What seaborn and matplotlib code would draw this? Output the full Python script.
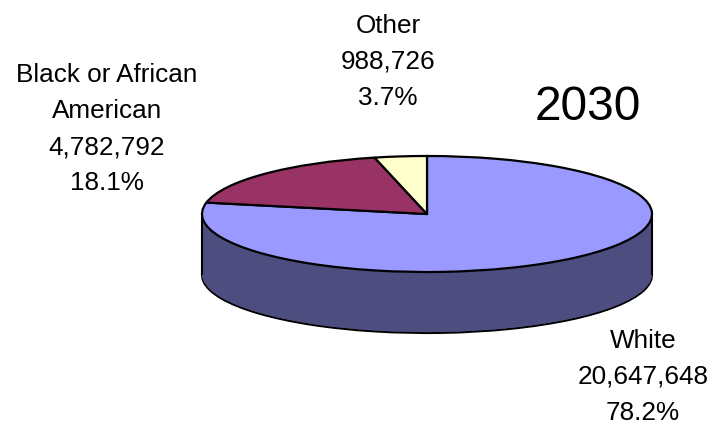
import matplotlib
matplotlib.use("Agg")
import matplotlib.pyplot as plt
import seaborn as sns

sns.set_theme(style="white")
plt.rcParams['font.family'] = ['Liberation Sans', 'DejaVu Sans']

categories = ["White", "Black or African American", "Other"]
populations = [20647648, 4782792, 988726]
display_labels = ["White\n20,647,648\n78.2%", "Black or African\nAmerican\n4,782,792\n18.1%", "Other\n988,726\n3.7%"]
top_colors = ["#9999FF", "#993366", "#FFFFCC"]
side_colors = ["#4D4D80", "#4D1A33", "#808066"]
title_text = "2030"

W, H = 710, 427
cx, cy, rx, ry, depth = 427, 215, 225, 58, 61
fig = plt.figure(figsize=(W / 100, H / 100), dpi=100, facecolor="white")
ax = fig.add_axes([0, 0, 1, 1])

n = 70
for i in range(n, 0, -1):
    off = -depth / ry * i / n
    ax.pie(populations, colors=side_colors, startangle=90, counterclock=False, center=(0, off),
           wedgeprops=dict(linewidth=1.5 if i == n else 0, edgecolor="black" if i == n else "none"))
ax.vlines([-1, 1], -depth / ry, 0, colors="black", linewidth=1.5, zorder=3)
for w in ax.pie(populations, colors=top_colors, startangle=90, counterclock=False, center=(0, 0),
                wedgeprops=dict(linewidth=1.6, edgecolor="black"))[0]:
    w.set_zorder(4)
ax.set_aspect("auto")
ax.set_xlim((0 - cx) / rx, (W - cx) / rx)
ax.set_ylim((cy - H) / ry, cy / ry)
ax.axis("off")

def px(x, y, s, size):
    ax.text(x / W, 1 - y / H, s, transform=ax.transAxes, ha="center", va="center",
            fontsize=size, color="black", linespacing=1.64, zorder=5)

px(643, 377, display_labels[0], 18.8)
px(107, 129, display_labels[1], 18.8)
px(388, 62, display_labels[2], 18.8)
px(588, 108, title_text, 34.5)
fig.savefig("out.png", dpi=100)
